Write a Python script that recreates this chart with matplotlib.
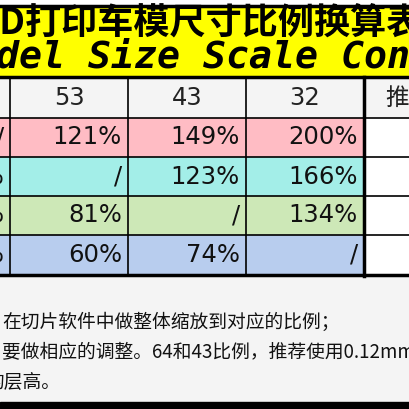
import matplotlib.pyplot as plt
from matplotlib.patches import Rectangle

plt.rcParams['font.family'] = ['Noto Sans CJK SC', 'DejaVu Sans']

title_cn = '3D打印车模尺寸比例换算表'
title_en = 'Model Size Scale Conversion'
scales = ['64', '53', '43', '32']
values = [['/', '121%', '149%', '200%'],
          ['83%', '/', '123%', '166%'],
          ['67%', '81%', '/', '134%'],
          ['50%', '60%', '74%', '/']]
row_colors = ['#ffbcc4', '#a3eee8', '#cde8b7', '#b8cdee']
notes = ['在切片软件中做整体缩放到对应的比例；',
         '要做相应的调整。64和43比例，推荐使用0.12mm层',
         '的层高。']

fig = plt.figure(figsize=(4.09, 4.09), dpi=100)
ax = fig.add_axes([0, 0, 1, 1])
ax.set_xlim(0, 409)
ax.set_ylim(409, 0)
ax.axis('off')
fig.patch.set_facecolor('#f4f4f4')

# title band
ax.add_patch(Rectangle((0, 0), 409, 5, color='white'))
ax.add_patch(Rectangle((0, 6), 409, 70, color='#ffff00'))
ax.plot([0, 409], [5.5, 5.5], color='black', lw=2.5)
ax.plot([0, 409], [76.5, 76.5], color='black', lw=2.5)
ax.text(-22, 24, title_cn, fontsize=26, fontweight='black', style='italic',
        va='center', ha='left')
ax.text(-50, 58, title_en, fontsize=27.5, family='DejaVu Sans Mono',
        fontweight='bold', style='italic', va='center', ha='left')

# table
col_x = [-108, 10, 128, 246, 364]
row_y = [77, 118, 157, 196, 235, 275]
ax.add_patch(Rectangle((0, 77), 364, 41, color='#f4f4f4'))
ax.add_patch(Rectangle((364, 118), 45, 157, color='white'))
for j, s in enumerate(scales):
    ax.text((col_x[j] + col_x[j + 1]) / 2, 98, s, fontsize=17.5,
            family='DejaVu Sans', va='center', ha='center', color='#222222')
ax.text(385, 98, '推荐层高', fontsize=17, va='center', ha='left', color='#222222')
for i, row in enumerate(values):
    y0, y1 = row_y[i + 1], row_y[i + 2]
    ax.add_patch(Rectangle((0, y0), 364, y1 - y0, color=row_colors[i]))
    for j, v in enumerate(row):
        ax.text(col_x[j + 1] - 6, (y0 + y1) / 2, v, fontsize=17.5,
                family='DejaVu Sans', va='center', ha='right', color='#111111')
for y in row_y[1:-1]:
    ax.plot([0, 409], [y, y], color='black', lw=1.2)
for x in col_x[1:-1]:
    ax.plot([x, x], [77, 275], color='black', lw=1.2)
ax.plot([364, 364], [77, 276], color='black', lw=2.5)
ax.plot([0, 409], [275, 275], color='black', lw=2.5)

# notes
for k, (t, y) in enumerate(zip(notes, [322, 352, 382])):
    ax.text(-15 if k == 2 else 2, y, t, fontsize=13.5, va='center', ha='left',
            color='#111111')
ax.add_patch(Rectangle((0, 402), 409, 7, color='black'))

fig.savefig('out.png', dpi=100)
